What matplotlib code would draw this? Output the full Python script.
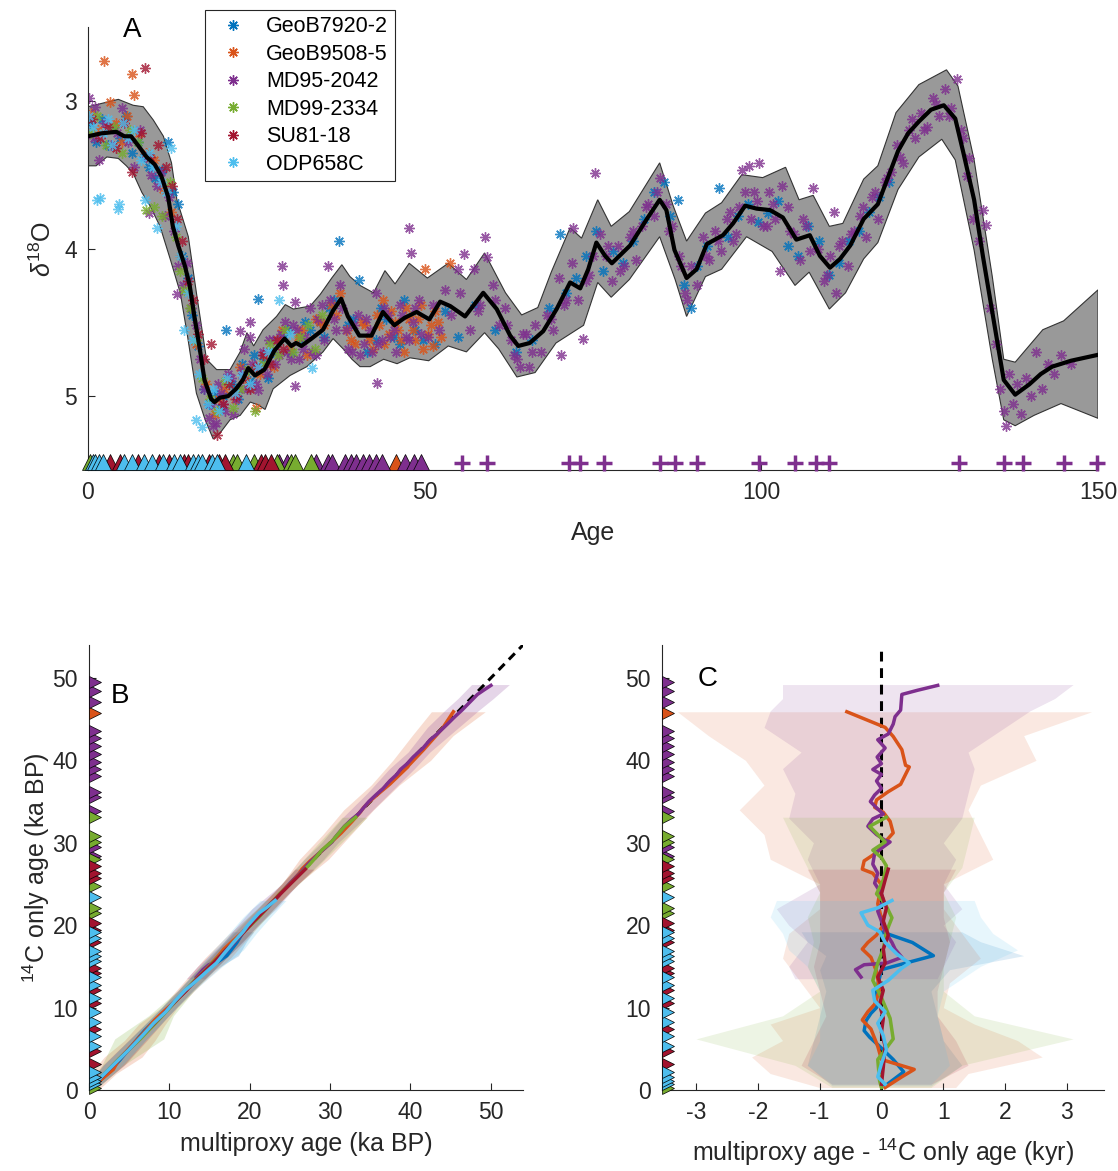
import matplotlib
matplotlib.use('Agg')
import matplotlib.pyplot as plt
from matplotlib.lines import Line2D
import numpy as np

plt.rcParams['font.family'] = ['Liberation Sans', 'DejaVu Sans']
plt.rcParams['mathtext.fontset'] = 'custom'
plt.rcParams['mathtext.rm'] = 'Liberation Sans'
plt.rcParams['mathtext.it'] = 'Liberation Sans:italic'
plt.rcParams['axes.unicode_minus'] = False

cores = ['GeoB7920-2', 'GeoB9508-5', 'MD95-2042', 'MD99-2334', 'SU81-18', 'ODP658C']
colors = ['#0072BD', '#D95319', '#7E2F8E', '#77AC30', '#A2142F', '#4DBEEE']

# ---- panel A: stacked d18O (median + band) ----
med_age = [0, 2.0, 4.2, 5.4, 6.4, 7.4, 8.7, 9.9, 10.9, 11.9, 12.6, 13.4, 14.4, 15.1, 15.8, 16.6,
           17.3, 18.3, 18.8, 19.6, 20.8, 22.0, 23.0, 23.8, 24.8, 26.2, 27.7, 29.2, 30.2, 30.9,
           31.7, 33.2, 34.9, 36.4, 37.6, 38.6, 40.3, 42.1, 43.8, 45.5, 47.0, 48.8, 50.7, 52.3,
           53.8, 56.0, 58.7, 60.7, 62.7, 63.9, 65.6, 67.6, 69.6, 71.6, 73.1, 74.3, 75.5, 76.8,
           77.8, 80.5, 83.0, 84.9, 85.9, 87.1, 88.9, 90.4, 91.9, 94.3, 95.8, 97.6, 99.3, 101.3,
           103.2, 105.2, 107.2, 108.7, 110.2, 111.7, 113.2, 115.2, 117.3, 118.8, 120.3, 121.8,
           123.4, 125.2, 127.1, 128.8, 130.0, 131.6, 132.9, 134.3, 136.0, 137.7, 139.8, 141.5,
           143.2, 146.0, 150.0]
med_val = [3.24, 3.22, 3.21, 3.24, 3.24, 3.30, 3.38, 3.43, 3.51, 3.65, 3.85, 3.98, 4.12, 4.25, 4.46, 4.68,
           4.89, 5.02, 5.04, 5.01, 5.00, 4.95, 4.89, 4.81, 4.86, 4.82, 4.69, 4.61, 4.66, 4.64,
           4.66, 4.61, 4.55, 4.42, 4.34, 4.46, 4.59, 4.59, 4.43, 4.52, 4.47, 4.43, 4.48, 4.36,
           4.39, 4.46, 4.30, 4.41, 4.59, 4.66, 4.64, 4.56, 4.41, 4.23, 4.27, 4.14, 3.96, 4.05,
           4.10, 3.98, 3.80, 3.67, 3.74, 4.01, 4.20, 4.14, 3.97, 3.91, 3.83, 3.71, 3.73, 3.74,
           3.79, 3.94, 3.91, 4.05, 4.13, 4.07, 3.98, 3.80, 3.70, 3.52, 3.34, 3.22,
           3.14, 3.06, 3.03, 3.12, 3.35, 3.67, 4.05, 4.43, 4.89, 4.99, 4.92, 4.85,
           4.80, 4.76, 4.72]

top_age = [0, 1.8, 4.5, 6.7, 8.2, 9.7, 11.2, 12.4, 13.2, 14.9, 16.1, 17.6, 19.1, 21.1, 22.6, 23.6,
           24.6, 26.0, 28.0, 29.3, 30.5, 33.0, 34.5, 36.2, 37.7, 38.9, 40.4, 42.4, 44.1, 45.6,
           47.7, 50.4, 53.5, 56.2, 58.9, 62.0, 64.4, 66.8, 68.8, 71.6, 73.3, 75.7, 77.7, 80.4,
           84.9, 86.9, 88.9, 91.7, 94.1, 97.1, 100.2, 103.6, 105.6, 107.7, 110.1, 112.1, 115.2,
           117.3, 120.0, 123.4, 127.5, 129.2, 131.6, 134.3, 136.0, 137.7, 141.8, 144.9, 150.0]
top_val = [3.04, 3.02, 2.99, 3.03, 3.04, 3.13, 3.24, 3.42, 3.67, 3.92, 4.30, 4.75, 4.82, 4.82, 4.70,
           4.57, 4.66, 4.55, 4.46, 4.38, 4.41, 4.39, 4.31, 4.20, 4.11, 4.19, 4.25, 4.30, 4.15,
           4.24, 4.10, 4.20, 4.10, 4.21, 4.03, 4.30, 4.45, 4.40, 4.16, 3.86, 3.93, 3.67, 3.85,
           3.75, 3.42, 3.71, 3.95, 3.76, 3.69, 3.50, 3.52, 3.45, 3.67, 3.64, 3.85, 3.83, 3.53,
           3.44, 3.08, 2.89, 2.79, 2.90, 3.40, 4.19, 4.75, 4.77, 4.55, 4.49, 4.28]
bot_age = [0, 1.2, 2.8, 4.5, 5.7, 6.7, 8.0, 9.2, 10.7, 12.2, 13.7, 14.7, 16.1, 17.4, 18.6, 19.6,
           21.1, 22.6, 24.1, 25.3, 26.3, 27.5, 30.0, 32.5, 34.9, 36.4, 37.9, 39.2, 40.4, 41.9,
           43.9, 45.9, 47.8, 50.6, 53.5, 56.2, 58.9, 61.0, 63.7, 66.4, 69.5, 73.6, 75.7, 77.7,
           80.4, 84.9, 87.2, 88.9, 91.7, 94.1, 97.8, 101.6, 105.0, 107.1, 110.1, 112.5, 115.2,
           117.3, 120.3, 123.4, 126.8, 128.8, 131.6, 134.3, 136.0, 137.7, 140.5, 144.5, 150.0]
bot_val = [3.44, 3.44, 3.38, 3.39, 3.44, 3.49, 3.62, 3.71, 3.85, 4.07, 4.30, 4.57, 4.98, 5.16, 5.29,
           5.25, 5.16, 5.13, 5.04, 5.06, 5.09, 4.95, 4.86, 4.80, 4.70, 4.61, 4.68, 4.75, 4.80,
           4.80, 4.75, 4.78, 4.74, 4.76, 4.66, 4.70, 4.57, 4.68, 4.87, 4.84, 4.64, 4.52, 4.23,
           4.33, 4.21, 3.92, 4.21, 4.46, 4.19, 4.14, 3.92, 4.02, 4.25, 4.16, 4.41, 4.30, 4.07,
           3.96, 3.60, 3.38, 3.26, 3.40, 4.01, 4.75, 5.16, 5.20, 5.13, 5.05, 5.15]

# ---- panel A: individual core d18O (age, value) ----
geob7920_age = [0.3, 1.2, 2.1, 3.0, 3.9, 4.8, 5.6, 6.5, 7.4, 8.3, 9.1, 10.0, 11.0, 11.9, 12.6, 13.3,
                14.0, 14.8, 15.5, 16.3, 17.2, 18.0, 18.9, 19.8, 20.5, 21.4, 22.3, 23.2, 24.1, 25.3,
                26.2, 27.5, 28.9, 30.2, 31.6, 33.0, 34.4, 35.8, 37.3, 38.6, 40.2, 41.5, 42.8, 44.2,
                45.5, 47.0, 48.5, 49.8,
                20.0, 22.8, 24.6, 26.8, 29.5, 32.3, 35.1, 36.5, 39.4, 43.5, 46.3,
                51.5, 53.0, 55.0, 57.5, 60.5, 63.5, 66.0, 68.5, 70.1, 71.0, 72.5, 74.0, 75.5, 76.5,
                78.0, 79.5, 81.0, 82.5, 84.0, 85.5, 86.5, 87.6, 88.5, 89.5, 90.5, 92.0, 93.7, 95.0,
                96.5, 98.0, 99.5, 101.0, 102.5, 104.0, 105.5, 107.0, 108.5, 110.0, 111.5, 113.0,
                114.5, 116.0, 117.5, 119.0]
geob7920_d18o = [3.15, 3.28, 3.12, 3.30, 3.18, 3.25, 3.10, 3.35, 3.28, 3.38, 3.45, 3.52, 3.47, 3.28, 3.62,
                 3.70, 4.05, 4.20, 4.45, 4.66, 4.95, 5.05, 4.98, 5.08, 4.55, 4.92, 5.02, 4.85, 4.90,
                 4.34, 4.75, 4.70, 4.58, 4.70, 4.62, 4.55, 4.50, 4.40, 3.95, 4.52, 4.21, 4.70, 4.62,
                 4.48, 4.60, 4.35, 4.55, 4.62,
                 5.00, 4.78, 4.72, 4.88, 4.55, 4.50, 4.60, 4.35, 4.48, 4.40, 4.65,
                 4.65, 4.42, 4.60, 4.38, 4.55, 4.70, 4.62, 4.40, 3.90, 4.30, 4.20, 4.05, 3.88, 4.15,
                 4.02, 4.10, 3.95, 3.80, 3.62, 3.55, 3.78, 3.67, 4.25, 4.40, 4.12, 3.98, 3.59, 3.92,
                 3.78, 3.70, 3.82, 3.76, 3.68, 3.98, 4.05, 3.85, 3.95, 4.18, 4.10, 3.95,
                 3.88, 3.75, 3.65, 3.55]

geob9508_age = [0.5, 1.5, 2.4, 3.3, 4.2, 5.0, 5.8, 6.5, 6.8, 7.5, 8.6, 9.8, 11.2, 12.4, 13.6, 14.9,
                16.0, 17.5, 18.8, 20.2, 21.8, 23.3, 24.9, 26.4, 27.6, 28.8, 30.0, 31.2, 32.5, 33.8,
                35.0, 36.1, 37.4, 38.5, 39.6, 40.7, 41.8, 42.9, 43.8, 44.7, 45.6, 46.5, 47.3, 48.2,
                49.0, 49.8, 50.1, 50.9, 51.6, 52.4, 53.7,
                43.2, 44.0, 45.0, 46.0, 46.9, 47.7, 48.6, 49.4, 50.5, 51.2, 52.0,
                19.5, 22.5, 25.6, 28.2, 31.8, 34.4, 36.8, 39.0, 41.2, 42.3]
geob9508_d18o = [3.08, 3.20, 2.73, 3.01, 3.15, 3.28, 3.10, 2.82, 2.96, 3.22, 3.35, 3.40, 3.60, 3.75, 4.05,
                 4.30, 4.65, 4.92, 5.12, 4.95, 5.02, 4.88, 5.08, 4.72, 4.80, 4.55, 4.68, 4.60, 4.72,
                 4.48, 4.52, 4.38, 4.30, 4.55, 4.65, 4.50, 4.62, 4.45, 4.35, 4.58, 4.50, 4.62, 4.40,
                 4.55, 4.48, 4.68, 4.14, 4.52, 4.42, 4.60, 4.10,
                 4.52, 4.65, 4.42, 4.55, 4.70, 4.48, 4.62, 4.38, 4.58, 4.66, 4.50,
                 5.02, 4.80, 4.85, 4.62, 4.55, 4.50, 4.45, 4.62, 4.52, 4.68]

md952042_age = [0.1, 0.9, 1.7, 2.5, 3.4, 4.3, 5.1, 5.9, 6.8, 7.7, 8.6, 9.4, 10.2, 10.9, 11.5, 12.1,
                12.8, 13.4, 14.1, 14.7, 15.3, 16.0, 16.6, 17.3, 17.9, 18.6, 19.3, 20.0, 20.8, 21.6,
                22.4, 23.2, 24.0, 24.9, 25.7, 26.6, 27.5, 28.4, 29.3, 30.2, 31.1, 32.0, 32.9, 33.8,
                34.7, 35.6, 36.5, 37.4, 38.3, 39.2, 40.1, 41.0, 41.9, 42.8, 43.7, 44.6, 45.5, 46.4,
                47.3, 47.9, 48.2, 49.1,
                28.8, 28.9, 30.7, 30.8, 42.9, 47.6, 22.6, 24.0, 9.1, 1.0, 13.2,
                18.2, 19.0, 19.8, 20.4, 21.2, 22.0, 22.8, 23.6, 24.4, 25.2, 26.0, 26.9, 27.8, 28.6,
                29.6, 30.5, 31.4, 32.3, 33.2, 34.1, 35.0, 35.9, 36.8, 37.7, 38.6, 39.5, 40.4, 41.3,
                42.2, 43.1, 44.0, 44.9, 45.8, 46.7, 47.6, 48.5, 49.4,
                50.5, 51.3, 52.2, 53.0, 53.9, 54.9, 55.9, 56.8, 57.3, 58.2, 58.9, 59.3, 60.1, 61.0,
                61.9, 62.8, 63.7, 64.6, 65.5, 66.4, 67.3, 68.2, 69.1, 70.0, 70.3, 71.0, 71.9, 72.1,
                72.8, 73.5, 74.4, 75.3, 76.0, 76.9, 77.8, 78.7, 79.6, 80.5, 81.4, 82.3, 83.2, 84.1,
                85.0, 85.9, 86.8, 87.7, 88.6, 89.5, 90.4, 91.3, 92.2, 93.1, 94.0, 94.9, 95.8, 96.7,
                97.1, 97.6, 98.2, 98.5, 99.4, 99.7, 100.3, 101.2, 102.1, 102.7, 103.0, 103.9, 104.8,
                105.7, 106.6, 107.6, 108.4, 109.3, 110.2, 110.8, 111.1, 112.0, 112.9, 113.8, 114.7,
                115.6, 116.5, 117.4, 118.3, 119.2, 120.1, 121.0, 121.9, 122.8, 123.7, 124.6, 125.5,
                126.4, 127.3, 128.2, 129.1, 130.0, 130.6, 130.8, 131.5, 132.4, 132.9, 133.3, 134.0,
                134.8, 135.5, 136.0, 136.3, 136.8, 137.4, 138.0, 138.6, 139.3, 140.0, 140.8, 141.7,
                142.6, 143.5, 144.5, 146.0,
                55.3, 57.9, 60.5, 62.3, 63.2, 64.1, 65.0, 66.0, 68.7, 70.7, 73.9, 75.0, 77.3, 79.0,
                80.9, 82.8, 84.5, 86.3, 88.1, 89.0, 91.8, 93.6, 95.3, 96.2, 98.9, 100.8, 101.7,
                104.3, 106.2, 107.2, 109.7, 111.5, 113.3, 115.1, 116.9, 118.7, 120.6, 122.4, 124.2,
                126.0, 127.8, 129.6]
md952042_d18o = [2.98, 3.25, 3.40, 3.15, 3.30, 3.22, 3.05, 3.28, 3.45, 3.20, 3.38, 3.50, 3.58, 3.48, 3.78,
                 3.65, 3.88, 4.12, 4.25, 4.10, 4.40, 4.52, 4.75, 4.95, 5.15, 5.20, 4.92, 5.05, 4.85,
                 5.12, 4.95, 4.68, 4.60, 4.92, 4.80, 4.85, 4.62, 4.72, 4.50, 4.75, 4.55, 4.68, 4.40,
                 4.72, 4.38, 4.12, 4.48, 4.25, 4.55, 4.70, 4.45, 4.65, 4.55, 4.30, 4.62, 4.45, 4.55,
                 4.38, 4.60, 4.03, 4.50, 4.35,
                 4.12, 4.25, 4.36, 4.93, 4.91, 3.86, 4.56, 4.50, 3.76, 3.04, 4.31,
                 5.05, 5.18, 4.98, 5.10, 4.88, 5.02, 4.82, 4.95, 4.78, 4.96, 4.70, 4.62, 4.78, 4.58,
                 4.70, 4.52, 4.75, 4.60, 4.70, 4.48, 4.62, 4.35, 4.55, 4.40, 4.68, 4.52, 4.72, 4.48,
                 4.70, 4.65, 4.40, 4.60, 4.70, 4.45, 4.62, 4.40, 4.58,
                 4.60, 4.38, 4.55, 4.28, 4.45, 4.14, 4.04, 4.55, 4.14, 4.38, 3.92, 4.06, 4.25, 4.52,
                 4.40, 4.62, 4.75, 4.58, 4.80, 4.52, 4.70, 4.45, 4.55, 4.20, 4.72, 4.35, 4.10, 3.86,
                 4.35, 4.61, 4.18, 3.49, 3.90, 4.05, 4.22, 3.98, 4.12, 3.92, 4.08, 3.85, 3.70, 3.78,
                 3.52, 3.70, 3.85, 4.05, 4.30, 4.12, 4.25, 3.92, 4.08, 3.88, 4.02, 3.80, 3.95, 3.72,
                 3.47, 3.62, 3.44, 3.80, 3.68, 3.42, 3.85, 3.62, 3.80, 4.15, 3.58, 3.72, 3.90,
                 4.08, 3.85, 3.59, 4.00, 4.22, 4.05, 3.75, 4.30, 3.95, 4.12, 3.88, 3.78,
                 3.92, 3.65, 3.80, 3.55, 3.48, 3.30, 3.42, 3.20, 3.25, 3.08, 3.18, 2.98,
                 3.10, 2.92, 3.05, 2.85, 3.25, 3.51, 3.39, 3.80, 3.95, 3.74, 3.84, 4.40,
                 4.65, 4.95, 5.10, 5.20, 4.85, 5.05, 4.92, 5.12, 4.88, 5.00, 4.70, 4.95,
                 4.78, 4.85, 4.72, 4.78,
                 4.30, 4.42, 4.35, 4.52, 4.72, 4.80, 4.58, 4.70, 4.48, 4.38, 4.22, 4.05, 3.98, 4.15,
                 3.88, 3.72, 3.62, 3.88, 4.12, 4.35, 4.05, 3.95, 3.75, 3.90, 3.62, 3.85, 3.70,
                 3.88, 3.80, 4.02, 4.18, 3.98, 3.90, 3.72, 3.62, 3.52, 3.38, 3.12, 3.20,
                 3.02, 3.10, 3.20]

md992334_age = [0.4, 1.4, 2.6, 3.8, 5.0, 6.2, 7.4, 8.6, 9.8, 11.0, 12.2, 13.0, 13.6, 14.3, 15.1, 16.0,
                17.0, 18.1, 19.2, 20.4, 21.5, 22.6, 23.7, 24.8, 26.0, 27.1, 28.2, 29.3, 30.4, 31.5,
                32.6, 33.7, 34.8]
md992334_d18o = [3.22, 3.10, 3.30, 3.18, 3.35, 3.20, 3.28, 3.74, 3.72, 3.78, 3.55, 3.92, 4.15, 4.28, 4.40,
                 4.62, 4.88, 5.02, 5.10, 4.90, 5.08, 4.95, 4.82, 5.10, 4.78, 4.65, 4.72, 4.55, 4.70,
                 4.60, 4.52, 4.68, 4.45]

su8118_age = [0.6, 1.8, 3.0, 4.2, 5.4, 6.6, 7.8, 8.4, 9.2, 10.4, 11.6, 12.5, 13.2, 14.0, 14.8, 15.6,
              16.4, 17.3, 18.2, 19.1, 20.0, 21.0, 22.0, 23.0, 24.0, 25.0, 26.0, 27.0, 28.0, 29.0]
su8118_d18o = [3.12, 3.25, 3.18, 3.32, 3.15, 3.48, 3.22, 2.78, 3.38, 3.30, 3.45, 3.58, 3.80, 3.95, 4.22,
               4.35, 4.58, 4.75, 4.65, 5.26, 5.05, 4.92, 5.00, 4.88, 4.95, 4.80, 4.72, 4.78, 4.62, 4.68]

odp658_age = [0.2, 0.8, 1.3, 1.8, 2.3, 2.9, 3.6, 4.4, 4.6, 5.2, 6.0, 6.9, 7.8, 8.4, 9.0, 9.6, 10.2,
              10.9, 11.6, 12.3, 13.0, 13.7, 14.2, 14.9, 15.6, 16.0, 16.5, 17.0, 17.8, 18.6, 19.5,
              20.6, 21.8, 22.9, 24.0, 25.3, 26.8, 28.3, 30.0, 33.3]
odp658_d18o = [3.10, 3.18, 3.67, 3.66, 3.22, 3.12, 3.30, 3.73, 3.70, 3.15, 3.25, 3.20, 3.40, 3.67, 3.35,
               3.45, 3.86, 3.55, 3.62, 3.32, 3.85, 4.05, 4.55, 4.30, 4.62, 5.16, 4.85, 5.21, 5.05,
               4.95, 5.10, 4.88, 4.98, 4.86, 4.92, 4.80, 4.70, 4.35, 4.58, 4.81]

# 14C dates per core (ka)
dates_geob7920 = []
dates_geob9508 = [45.8]
dates_md952042 = [28.4, 29.5, 33.9, 35.6, 36.2, 38.1, 39.0, 39.8, 40.8, 41.7, 42.7, 43.6, 47.1, 48.4, 49.5]
dates_md992334 = [0.3, 21.5, 22.1, 24.7, 28.0, 30.1, 30.8, 33.1]
dates_su8118 = [3.2, 4.7, 7.4, 10.6, 12.1, 14.2, 14.8, 17.9, 19.4, 20.3, 25.7, 26.3, 27.2]
dates_odp658 = [0.7, 1.1, 1.6, 2.2, 5.3, 6.6, 8.3, 9.5, 11.2, 12.7, 13.7, 15.6, 16.3, 16.9, 18.4, 19.2, 23.4]

# MD95-2042 other tie points beyond 14C range
tie_ages = [55.6, 59.2, 71.5, 73.0, 76.7, 85.0, 87.2, 90.5, 99.7, 105.0, 108.1, 110.0,
            129.4, 136.0, 138.8, 144.9, 149.9]

# ---- panels B/C: multiproxy minus 14C-only age vs 14C-only age ----
c_age_geob7920 = [0.5, 2.2, 3.7, 5.3, 6.4, 7.2, 8.4, 9.3, 10.0, 12.1, 14.6, 15.4, 16.3, 17.9, 19.2]
c_diff_geob7920 = [0.06, 0.36, 0.19, -0.03, -0.19, -0.28, -0.25, -0.17, -0.08, -0.08, 0.0, 0.39, 0.84, 0.50, 0.0]
c_age_geob9508 = [0.3, 1.6, 2.5, 3.7, 5.3, 7.4, 8.5, 9.5, 10.4, 12.1, 14.4, 16.1, 17.1, 17.9, 18.8, 20.0,
                  22.6, 24.9, 26.3, 26.8, 27.8, 28.9, 30.1, 31.2, 32.6, 33.7, 34.3, 35.2, 36.2, 37.1,
                  39.2, 39.4, 41.3, 42.9, 44.0, 45.9]
c_diff_geob9508 = [0.06, 0.33, 0.53, 0.0, -0.06, -0.17, -0.31, -0.22, -0.11, -0.03, -0.08, -0.17, -0.31,
                   -0.22, -0.08, 0.03, -0.06, 0.0, -0.14, -0.31, -0.28, -0.06, 0.06, 0.19, 0.14, 0.03,
                   -0.11, -0.08, 0.11, 0.31, 0.45, 0.39, 0.33, 0.19, 0.06, -0.56]
c_age_md952042 = [13.7, 14.6, 15.2, 15.4, 16.1, 17.1, 17.9, 19.2, 20.5, 21.7, 23.0, 23.8, 25.1, 26.3,
                  27.4, 28.7, 29.5, 30.1, 30.3, 31.0, 32.0, 32.9, 33.5, 34.1, 35.0, 35.8, 36.6, 37.5,
                  38.3, 38.9, 39.6, 40.4, 41.5, 42.5, 43.2, 44.4, 45.3, 46.1, 48.0, 48.5, 49.1]
c_diff_md952042 = [-0.33, -0.42, -0.28, 0.08, 0.33, 0.22, 0.17, 0.06, 0.0, -0.06, 0.03, 0.0, -0.11, -0.06,
                   -0.14, -0.11, 0.03, 0.14, 0.06, -0.08, -0.22, -0.14, 0.03, -0.06, -0.18, -0.11, 0.0,
                   -0.08, 0.0, -0.14, 0.0, -0.07, 0.06, -0.06, 0.11, 0.19, 0.22, 0.31, 0.33, 0.58, 0.91]
c_age_md992334 = [0.3, 1.1, 3.7, 6.2, 8.7, 11.2, 13.3, 15.4, 17.1, 19.2, 20.9, 22.6, 23.8, 25.5, 27.2,
                  28.2, 29.1, 30.1, 31.0, 32.0, 33.1]
c_diff_md992334 = [0.0, -0.03, -0.06, 0.19, 0.14, 0.0, -0.14, -0.06, 0.03, 0.08, 0.17, 0.06, -0.08, 0.03,
                   0.08, 0.0, -0.14, 0.06, -0.06, -0.19, 0.08]
c_age_su8118 = [0.7, 2.8, 5.3, 7.0, 8.7, 10.4, 12.1, 13.7, 15.4, 17.1, 18.8, 20.5, 22.1, 23.8, 25.5, 26.8]
c_diff_su8118 = [0.0, 0.03, 0.06, 0.0, 0.03, -0.03, 0.03, -0.06, 0.06, 0.03, 0.11, 0.03, 0.08, 0.0, 0.06, 0.11]
c_age_odp658 = [0.7, 1.6, 3.2, 4.9, 6.6, 8.1, 9.5, 10.8, 12.1, 13.3, 14.8, 15.4, 16.5, 17.9, 19.2, 20.0,
                21.5, 22.1, 23.0]
c_diff_odp658 = [0.06, -0.06, 0.0, 0.08, 0.03, -0.06, 0.06, -0.11, -0.14, 0.11, 0.33, 0.45, 0.25, 0.06,
                 -0.03, -0.22, -0.33, -0.06, 0.17]

# uncertainty envelopes (kyr, relative to 14C-only age)
env_age_geob7920 = [0.5, 3, 6, 9, 12, 14.6, 16.3, 18, 19.2]
env_lo_geob7920 = [-0.8, -1.2, -1.1, -1.0, -0.9, -1.0, -0.9, -1.2, -1.3]
env_hi_geob7920 = [0.8, 1.3, 1.0, 0.9, 0.8, 1.1, 2.3, 1.6, 1.3]
env_age_geob9508 = [0.3, 2, 4, 6, 8, 10, 13, 16, 19, 22, 25, 28, 31, 34, 37, 40, 43, 45.9]
env_lo_geob9508 = [-1.0, -1.8, -2.1, -1.6, -1.8, -1.0, -1.3, -1.6, -1.5, -1.0, -1.0, -1.8, -1.9, -2.3,
                   -1.9, -2.2, -2.8, -3.3]
env_hi_geob9508 = [1.2, 1.4, 2.6, 2.2, 1.5, 1.0, 1.1, 1.6, 1.3, 1.0, 1.0, 1.8, 1.6, 1.4, 1.6, 2.5, 2.3, 3.4]
env_age_md952042 = [13.5, 15, 18, 20, 22, 25, 28, 30, 33, 36, 39, 41, 44, 46, 47.5, 49.2]
env_lo_md952042 = [-1.4, -1.5, -1.2, -1.5, -1.7, -1.0, -1.2, -1.1, -1.5, -1.4, -1.6, -1.3, -1.9, -1.8,
                   -1.6, -1.6]
env_hi_md952042 = [0.9, 1.0, 1.2, 1.0, 1.3, 1.0, 1.2, 1.0, 1.3, 1.4, 1.5, 1.4, 2.0, 2.4, 2.8, 3.1]
env_age_md992334 = [0.3, 3, 6.2, 9, 12, 15, 18, 21, 24, 27, 30, 33.1]
env_lo_md992334 = [-0.8, -1.4, -3.0, -1.6, -1.0, -1.2, -1.1, -1.2, -1.0, -1.2, -1.4, -1.6]
env_hi_md992334 = [0.8, 1.3, 3.1, 1.5, 1.0, 1.0, 1.1, 1.2, 1.0, 1.3, 1.4, 1.5]
env_age_su8118 = [0.7, 3, 6, 9, 12, 15, 18, 21, 24, 26.8]
env_lo_su8118 = [-0.8, -1.3, -1.1, -0.9, -1.0, -1.1, -1.0, -1.0, -1.0, -1.2]
env_hi_su8118 = [0.8, 1.4, 1.2, 0.9, 0.9, 1.0, 1.1, 1.0, 1.0, 1.2]
env_age_odp658 = [0.7, 3, 6, 9, 12, 15, 17, 19, 21, 23]
env_lo_odp658 = [-0.8, -1.2, -1.0, -1.0, -1.0, -1.2, -1.5, -1.6, -1.8, -1.7]
env_hi_odp658 = [0.8, 1.1, 1.0, 0.9, 1.0, 1.6, 2.2, 1.8, 1.6, 1.5]

core_d18o = [(geob7920_age, geob7920_d18o), (geob9508_age, geob9508_d18o),
             (md952042_age, md952042_d18o), (md992334_age, md992334_d18o),
             (su8118_age, su8118_d18o), (odp658_age, odp658_d18o)]
core_dates = [dates_geob7920, dates_geob9508, dates_md952042, dates_md992334, dates_su8118, dates_odp658]
core_diff = [(c_age_geob7920, c_diff_geob7920), (c_age_geob9508, c_diff_geob9508),
             (c_age_md952042, c_diff_md952042), (c_age_md992334, c_diff_md992334),
             (c_age_su8118, c_diff_su8118), (c_age_odp658, c_diff_odp658)]
core_env = [(env_age_geob7920, env_lo_geob7920, env_hi_geob7920),
            (env_age_geob9508, env_lo_geob9508, env_hi_geob9508),
            (env_age_md952042, env_lo_md952042, env_hi_md952042),
            (env_age_md992334, env_lo_md992334, env_hi_md992334),
            (env_age_su8118, env_lo_su8118, env_hi_su8118),
            (env_age_odp658, env_lo_odp658, env_hi_odp658)]

W, H = 1118, 1171
ast = (8, 2, 0)
tick_fs, lab_fs, let_fs = 16.5, 18, 20
axis_col = '#262626'


def style_axes(ax):
    for s in ['top', 'right']:
        ax.spines[s].set_visible(False)
    for s in ['left', 'bottom']:
        ax.spines[s].set_color(axis_col)
        ax.spines[s].set_linewidth(0.8)
    ax.tick_params(direction='in', length=5, width=0.8, colors=axis_col,
                   labelsize=tick_fs, pad=8)


fig = plt.figure(figsize=(W / 100, H / 100), dpi=100)

# ---------------- A ----------------
axA = fig.add_axes([88 / W, 1 - 470 / H, 1010 / W, 443 / H])
axA.fill(np.r_[top_age, bot_age[::-1]], np.r_[top_val, bot_val[::-1]],
         fc='#999999', ec='#333333', lw=0.8, zorder=1)
for (a, d), c in zip(core_d18o, colors):
    axA.plot(a, d, ls='none', marker=ast, ms=7.5, mew=1.0, color=c, alpha=0.8, zorder=2)
axA.plot(med_age, med_val, color='k', lw=3, zorder=3, solid_joinstyle='round')
for dts, c in zip(core_dates, colors):
    if dts:
        axA.plot(dts, [0.017] * len(dts), transform=axA.get_xaxis_transform(), ls='none',
                 marker='^', ms=11, mfc=c, mec='k', mew=0.5, clip_on=False, zorder=4)
axA.plot(tie_ages, [0.016] * len(tie_ages), transform=axA.get_xaxis_transform(), ls='none',
         marker='+', ms=11, mew=2.5, color=colors[2], clip_on=False, zorder=4)
axA.set_xlim(0, 150)
axA.set_ylim(5.5, 2.5)
axA.set_xticks([0, 50, 100, 150])
axA.set_yticks([3, 4, 5])
style_axes(axA)
axA.set_xlabel('Age', fontsize=lab_fs, color=axis_col, labelpad=12)
axA.set_ylabel(r'$\delta^{18}$O', fontsize=lab_fs, color=axis_col, labelpad=6)
axA.text(0.0436, 0.993, 'A', transform=axA.transAxes, fontsize=let_fs, ha='center', va='center')

handles = [Line2D([], [], ls='none', marker=ast, ms=7.5, mew=1.0, color=c) for c in colors]
leg = fig.legend(handles, cores, loc='upper left', bbox_to_anchor=(205 / W, 1 - 10 / H),
                 bbox_transform=fig.transFigure, fancybox=False, edgecolor=axis_col,
                 framealpha=1, fontsize=15.5, handlelength=2.0, handletextpad=0.55,
                 borderpad=0.3, labelspacing=0.3, borderaxespad=0)
leg.get_frame().set_linewidth(0.8)

# ---------------- B ----------------
axB = fig.add_axes([89 / W, 1 - 1090 / H, 434 / W, 445 / H])
for (ea, lo, hi), c in zip(core_env, colors):
    ea = np.array(ea)
    axB.fill_betweenx(ea, ea + np.array(lo), ea + np.array(hi), color=c, alpha=0.2, lw=0)
axB.plot([0, 54], [0, 54], color='k', ls='--', lw=2.2, dashes=(2.8, 2.0))
for (ca, cd), c in zip(core_diff, colors):
    ca = np.array(ca)
    axB.plot(ca + np.array(cd), ca, color=c, lw=2.5)
for dts, c in zip(core_dates, colors):
    if dts:
        axB.plot([0.0144] * len(dts), dts, transform=axB.get_yaxis_transform(), ls='none',
                 marker='>', ms=9, mfc=c, mec='k', mew=0.5, clip_on=False, zorder=4)
axB.set_xlim(0, 54)
axB.set_ylim(0, 54)
axB.set_xticks(range(0, 51, 10))
axB.set_yticks(range(0, 51, 10))
style_axes(axB)
axB.set_xlabel('multiproxy age (ka BP)', fontsize=lab_fs, color=axis_col, labelpad=6)
axB.set_ylabel(r'$^{14}$C only age (ka BP)', fontsize=lab_fs, color=axis_col, labelpad=0)
axB.text(0.071, 0.885, 'B', transform=axB.transAxes, fontsize=let_fs, ha='center', va='center')

# ---------------- C ----------------
axC = fig.add_axes([662 / W, 1 - 1090 / H, 442 / W, 445 / H])
for (ea, lo, hi), c in zip(core_env, colors):
    axC.fill_betweenx(ea, lo, hi, color=c, alpha=0.13, lw=0)
axC.plot([0, 0], [0, 53.5], color='k', ls='--', lw=2.2, dashes=(3.2, 2.2))
for (ca, cd), c in zip(core_diff, colors):
    axC.plot(cd, ca, color=c, lw=2.5)
for dts, c in zip(core_dates, colors):
    if dts:
        axC.plot([0.0141] * len(dts), dts, transform=axC.get_yaxis_transform(), ls='none',
                 marker='>', ms=9, mfc=c, mec='k', mew=0.5, clip_on=False, zorder=4)
axC.set_xlim(-3.55, 3.6)
axC.set_ylim(0, 54)
axC.set_xticks(range(-3, 4))
axC.set_yticks(range(0, 51, 10))
style_axes(axC)
axC.set_xlabel(r'multiproxy age - $^{14}$C only age (kyr)', fontsize=lab_fs, color=axis_col,
               labelpad=9)
axC.text(0.104, 0.924, 'C', transform=axC.transAxes, fontsize=let_fs, ha='center', va='center')

fig.savefig('out.png', dpi=100)
